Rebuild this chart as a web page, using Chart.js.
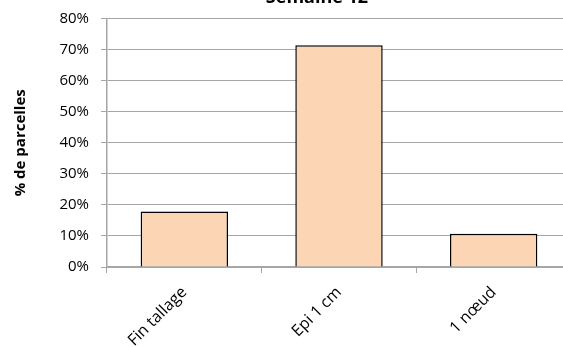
<!DOCTYPE html>
<html>
<head>
<meta charset="utf-8">
<script src="https://cdn.jsdelivr.net/npm/chart.js@4.4.0/dist/chart.umd.min.js"></script>
<style>
  html, body { margin: 0; padding: 0; overflow: hidden; background: #fff; width: 563px; height: 347px; }
  #wrap { position: absolute; left: 0; top: -13px; width: 634px; height: 360px; }
</style>
</head>
<body>
<div id="wrap"><canvas id="chart"></canvas></div>
<script>
const categories = ["Fin tallage", "Epi 1 cm", "1 nœud"];
const values = [17.9, 71.4, 10.7];
const yTicks = [0, 10, 20, 30, 40, 50, 60, 70, 80];

const font = "'Open Sans', 'DejaVu Sans', sans-serif";
const gridGray = "#a6a6a6";

new Chart(document.getElementById("chart"), {
  type: "bar",
  data: {
    labels: categories,
    datasets: [{
      data: values,
      backgroundColor: "#fcd5b5",
      borderColor: "#000",
      borderWidth: 1.5,
      barPercentage: 0.565,
      categoryPercentage: 1
    }]
  },
  options: {
    responsive: true,
    maintainAspectRatio: false,
    animation: false,
    layout: { padding: 0 },
    plugins: {
      legend: { display: false },
      tooltip: { enabled: false },
      title: {
        display: true,
        text: "Semaine 12",
        color: "#000",
        font: { family: font, size: 18, weight: "bold" },
        padding: { top: 0, bottom: 10 }
      }
    },
    scales: {
      x: {
        grid: { display: true, drawOnChartArea: false, drawTicks: true, tickLength: 6, color: gridGray, offset: true },
        border: { color: gridGray, width: 1.5 },
        ticks: {
          color: "#000",
          font: { family: font, size: 16 },
          maxRotation: 45,
          minRotation: 45,
          padding: 10
        },
        afterFit(scale) { scale.height = 80; }
      },
      y: {
        min: 0,
        max: 80,
        afterBuildTicks(scale) { scale.ticks = yTicks.map(v => ({ value: v })); },
        grid: { color: gridGray, lineWidth: 1, tickLength: 6, drawTicks: true },
        border: { color: gridGray, width: 1.5 },
        ticks: {
          color: "#000",
          font: { family: font, size: 15 },
          padding: 12,
          callback: v => v + "%"
        },
        title: {
          display: true,
          text: "% de parcelles",
          color: "#000",
          font: { family: font, size: 15, weight: "bold" },
          padding: { top: 12, bottom: 0 }
        },
        afterFit(scale) { scale.width = 107; }
      },
      // empty right-hand axis: keeps the plot ending at the crop edge
      y2: {
        position: "right",
        display: true,
        grid: { display: false },
        border: { display: false },
        ticks: { display: false },
        afterFit(scale) { scale.width = 63; }
      }
    }
  }
});
</script>
</body>
</html>
